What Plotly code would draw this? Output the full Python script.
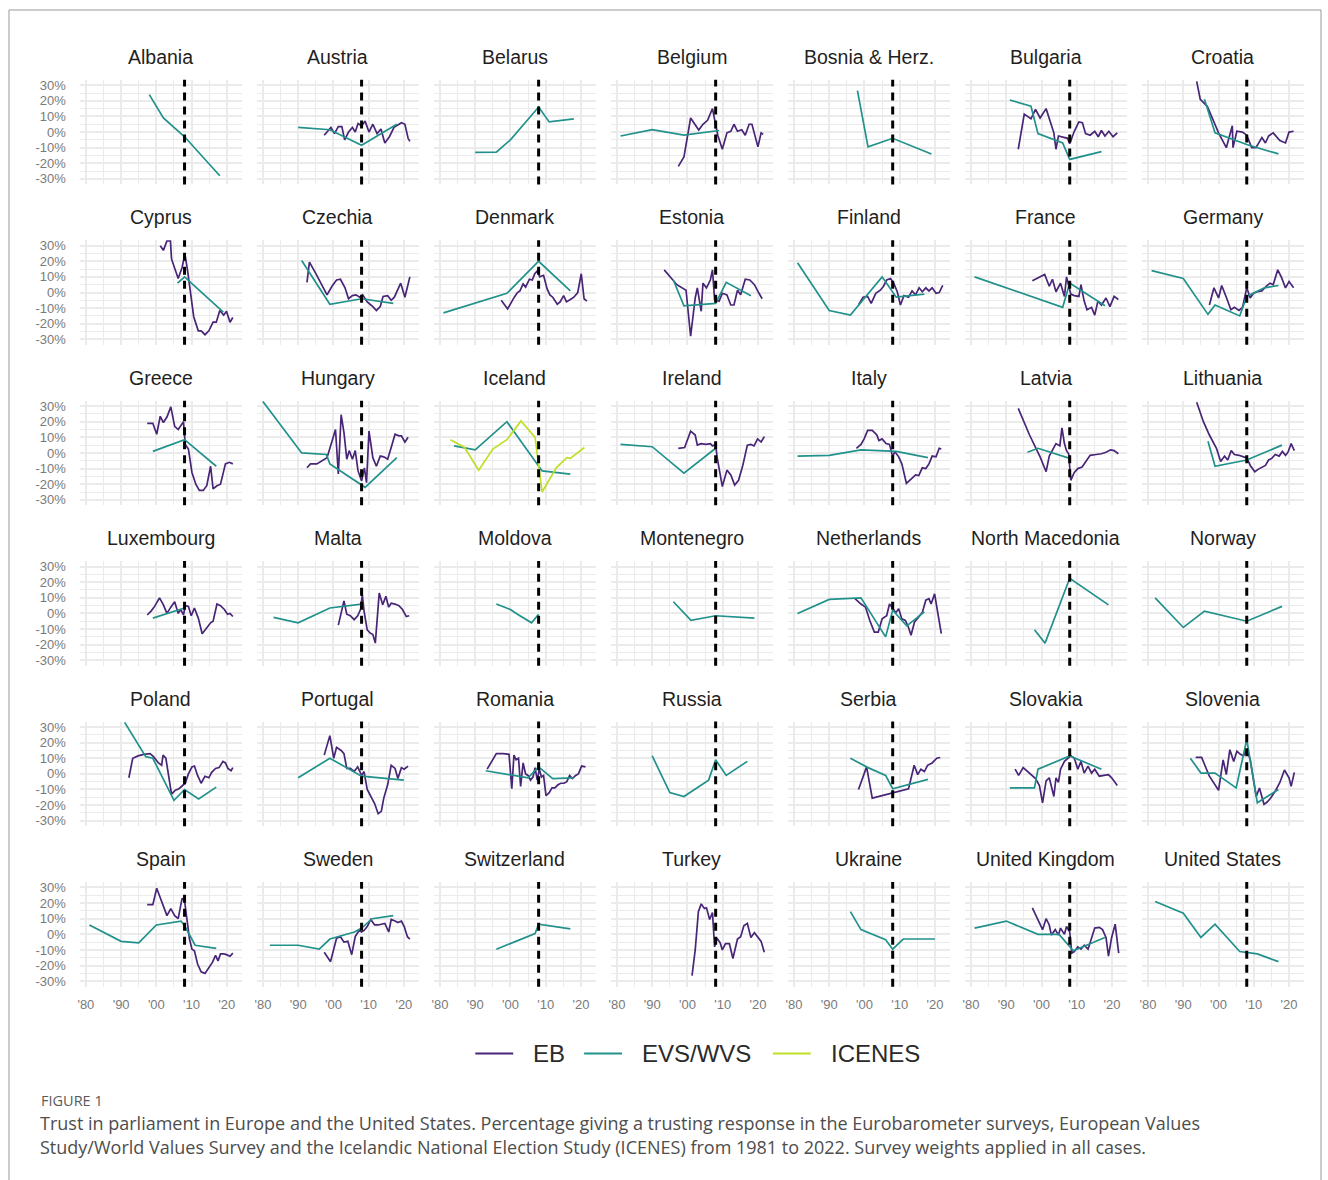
import plotly.graph_objects as go

# ---------------------------------------------------------------------------
# Trust in parliament, % trusting (centred series), by country and survey
# Each list holds (year, value) pairs.
# ---------------------------------------------------------------------------
albania_evs = [(1998, 24), (2002, 9), (2008, -3), (2018, -28)]

austria_evs = [(1990, 3), (1999, 1.5), (2008, -8.5), (2018, 5)]
austria_eb = [(1997.4, -2), (1999.3, 3), (2000.3, -1), (2001.4, 3.5), (2002.4, 3.5), (2003.2, -5),
              (2004.3, 0), (2005.4, 3), (2006.2, 0), (2007, 5.5), (2008, 4), (2009, 7), (2010.1, 0),
              (2011.2, 5), (2012.4, -1), (2013.5, 2), (2014.6, -7), (2015.9, -3), (2017.2, 3),
              (2019.3, 6), (2020.3, 5), (2021.2, -4), (2021.7, -6)]

belarus_evs = [(1990, -13), (1996, -12.8), (2000, -5), (2008, 16), (2011, 6.5), (2018, 8.5)]

belgium_evs = [(1981, -2.5), (1990, 1.5), (1999, -2), (2009, 1)]
belgium_eb = [(1997.4, -22), (1999, -16), (2000.9, 9), (2002.2, 4.5), (2003.2, 1.3), (2004.4, 5),
              (2005.7, 7.5), (2007.1, 15), (2007.7, 8), (2008.6, -2), (2009.9, -11), (2011.2, -0.5),
              (2012.3, 0.5), (2013.2, 5), (2014.2, 0.5), (2015.4, 1.5), (2016.4, -2), (2017.5, 5),
              (2018.3, 5), (2020, -9.5), (2020.9, -0.5), (2021.5, -1.5)]

bosnia_evs = [(1998, 26.5), (2001, -9.5), (2008, -4), (2019, -14)]

bulgaria_evs = [(1991, 20.5), (1997, 16.5), (1999, -1), (2006, -7), (2008, -17.5), (2017, -12.5)]
bulgaria_eb = [(1993.4, -11), (1995.1, 11.5), (1997, 8.5), (1998.3, 14.5), (1999.6, 9), (2001.3, 15),
               (2003.5, -0.5), (2004.1, -11), (2004.8, -2.5), (2006.1, -3.5), (2007.4, -4), (2008, -7.5),
               (2009.3, 0.5), (2010.6, 6.5), (2011.6, 6), (2012.5, -1), (2013.8, -2), (2015.1, 0.5),
               (2016.1, -3), (2017, 1), (2018, -2.5), (2019.1, 0.5), (2020.3, -3), (2021.5, -0.5)]

croatia_evs = [(1996, 21), (1999, -0.5), (2008, -8), (2017, -14)]
croatia_eb = [(1993.8, 32.5), (1994.8, 21), (1996.8, 16.5), (2000, -0.5), (2002.2, -10), (2003.9, 4),
              (2004.1, -10), (2005.2, 0.5), (2006.8, 0), (2008, -2), (2009.4, -10), (2010.6, -10),
              (2012.3, -3.5), (2013.3, -7), (2014.2, -2.5), (2015.5, -0.5), (2017.4, -5.5), (2019, -7),
              (2020, 0), (2021.3, 0.5)]

cyprus_evs = [(2006, 6), (2008, 10), (2019, -12.5)]
cyprus_eb = [(2001.1, 30), (2002, 27), (2003, 33), (2004, 33), (2004.3, 21.5), (2006.2, 9), (2007.3, 16),
             (2008.1, 24.5), (2008.8, 15), (2009.6, 2.5), (2010.6, -15.5), (2011.9, -24.5), (2012.7, -24.5),
             (2013.8, -27), (2014.9, -24.5), (2016.1, -19), (2017, -19), (2018, -11.5), (2019.1, -14.5),
             (2019.9, -12), (2020.9, -19), (2021.7, -16)]

czechia_evs = [(1991, 20.5), (1999, -7.5), (2008, -4), (2017, -7)]
czechia_eb = [(1992.5, 6.5), (1993.2, 19.5), (1994.8, 13), (1998.2, -1.5), (1999.6, 4), (2000.9, 8),
              (2002, 8.5), (2003.3, 3), (2004.3, -4), (2005.4, -2), (2006.4, -1.5), (2007.5, -3),
              (2008.3, -1.5), (2009.6, -6), (2011.2, -9), (2012.2, -11.5), (2013.3, -9), (2014.1, -2.5),
              (2015.4, -2), (2016.4, -5), (2017.3, -3), (2019.1, 6), (2020.3, -3), (2021.7, 10)]

denmark_evs = [(1981, -13), (1990, -7), (1999, -0.5), (2008, 20), (2017, 1)]
denmark_eb = [(1997.4, -5), (1999.2, -10.5), (2001.1, -3), (2002, 0), (2002.7, 1), (2003.6, 5.5),
              (2004.3, 3.5), (2005.4, 8.5), (2006.2, 8), (2006.9, 12), (2007.7, 14), (2008.3, 10),
              (2009.4, 11), (2010.4, 2.5), (2011.2, -1.5), (2012, -3), (2013.3, -7.5), (2014.1, -6),
              (2015.1, -2), (2015.9, -6), (2017, -4.5), (2018, -3), (2019.1, 0), (2020.1, 12),
              (2020.9, -4), (2021.7, -5.5)]

estonia_evs = [(1996, 8), (1999, -8.5), (2008, -7), (2011, 6.5), (2018, -2)]
estonia_eb = [(1993.4, 14.5), (1997, 5), (1999.6, 1.5), (2000.9, -28), (2002.2, -3.5), (2002.8, 3),
              (2003.9, -12), (2004.4, 6), (2005.4, 3), (2006.5, 8), (2007.1, 14.5), (2007.7, -4.5),
              (2009, -5.5), (2009.9, -0.5), (2011.2, -1.5), (2012.3, -8), (2013.2, -8), (2014.2, 1.5),
              (2015.1, -1.5), (2016.4, 8.5), (2017.7, 8), (2019, 5), (2020.3, -0.5), (2021.2, -4)]

finland_evs = [(1981, 19), (1990, -11.5), (1996, -14.5), (2005, 10), (2009, -3), (2017, -1)]
finland_eb = [(1998.3, -8), (1999.6, -3), (2000.9, -2.5), (2001.9, -7), (2003.2, -0.5), (2004.5, 1.5),
              (2005.4, 4), (2006.3, 8), (2007.4, 9), (2008.3, 6), (2009.3, 0.5), (2010.2, -8),
              (2011.2, -2), (2012.5, -3), (2013.5, 1), (2014.5, -1.5), (2015.5, 3), (2016.4, 0.5),
              (2017.4, 3), (2018.3, 1), (2019.2, 3), (2020.3, -0.5), (2021.2, 0), (2022.2, 4.5)]

france_evs = [(1981, 10), (1990, 3), (1999, -4), (2006, -9.5), (2008, 6), (2018, -8.5)]
france_eb = [(1997.4, 7.5), (1998.3, 8.5), (2000.9, 11.5), (2002.2, 4), (2003.1, 8.5), (2004.1, 0.5),
             (2005.4, 6), (2006.5, -2.5), (2007.1, 10), (2008.3, -1), (2009.3, -2), (2010.6, -2.5),
             (2011.2, 5), (2012.1, -5.5), (2012.9, -11), (2014.2, -9.5), (2015.1, -14.5), (2016, -5.5),
             (2017, -8), (2018.3, -3.5), (2019.4, -9), (2020.6, -2.5), (2021.8, -4.5)]

germany_evs = [(1981, 14), (1990, 9), (1997, -14), (1999, -8), (2006, -15), (2008, -2.5), (2013, 3),
               (2017, 4.5)]
germany_eb = [(1997.4, -8), (1998.7, 3), (2000, -3.5), (2000.9, 4.5), (2002.2, -3), (2003.5, -11),
              (2004.5, -9.5), (2005.8, -11.5), (2006.8, -9.5), (2008, 3), (2009, -3.5), (2009.9, -0.5),
              (2011, 0.5), (2012.3, 1), (2013.5, 4), (2014.6, 6), (2015.5, 5), (2016.8, 14.5),
              (2017.8, 10), (2019, 3), (2020, 7), (2021.3, 3)]

greece_evs = [(1999, 1), (2008, 8.5), (2017, -8.5)]
greece_eb = [(1997.4, 19), (1999, 19), (2000.1, 12), (2001.1, 23.5), (2002, 19.5), (2003, 23),
             (2004.1, 29.5), (2005.2, 17), (2006.2, 15), (2006.9, 17), (2007.7, 20), (2008.2, 5.5),
             (2009.1, 2.5), (2010.1, -12.5), (2011.2, -20), (2012.2, -24), (2013.3, -24), (2014.3, -21),
             (2015.4, -8.5), (2016.1, -23), (2017.2, -21), (2018.2, -20), (2019.6, -7), (2020.7, -6),
             (2021.7, -7)]

hungary_evs = [(1980, 33), (1991, 0), (1998, -1), (1999, -7), (2009, -22), (2018, -3)]
hungary_eb = [(1992.5, -9.5), (1993.5, -7), (1995.3, -7), (1996.9, -5), (1998.2, -3), (2000.6, 15),
              (2001.4, -13.5), (2002.2, 24.5), (2003, 13), (2003.8, -4), (2004.5, 1.5), (2005.4, -4),
              (2006.2, 1.5), (2007, -11.5), (2008, -18), (2008.8, -9.5), (2009.4, -19), (2010.1, 14),
              (2011.2, -3), (2012.2, -8.5), (2013.3, -2), (2014.3, -2.5), (2015.4, -4), (2016.4, 3.5),
              (2017.5, 12), (2018.6, 11), (2019.3, 11), (2020.3, 7), (2021.2, 10)]

iceland_evs = [(1984, 4.5), (1990, 2), (1999, 20), (2009, -11.5), (2017, -13.5)]
iceland_icenes = [(1983, 8.5), (1987, 3.5), (1991, -11), (1995, 2.5), (1999, 8.5), (2003, 20.5),
                  (2007, 10), (2009, -25), (2013, -9.5), (2016, -3), (2017, -3.5), (2021, 3.5)]

ireland_evs = [(1981, 5.5), (1990, 4), (1999, -13), (2008, 3)]
ireland_eb = [(1997.4, 3), (1999.2, 3.5), (2000.9, 14), (2002.2, 11.5), (2002.8, 5), (2003.9, 6),
              (2005.2, 5.5), (2006.5, 6), (2007.1, 4.5), (2008, 5.5), (2008.4, -2.5), (2009, -10),
              (2009.9, -21.5), (2011.2, -11), (2012.3, -14), (2013.4, -20.5), (2014.5, -17.5),
              (2015.7, -8), (2017, 5), (2018, 5.5), (2018.9, 4.5), (2019.9, 9), (2020.9, 7), (2021.8, 10.5)]

italy_evs = [(1981, -2), (1990, -1.5), (1999, 2), (2005, 1.5), (2009, 1), (2018, -3)]
italy_eb = [(1997.7, 3), (1999, 5.5), (1999.9, 9), (2000.9, 14.5), (2002.2, 14.5), (2003.5, 11.5),
            (2004.1, 8), (2005, 9), (2006.1, 6), (2007.1, 5.5), (2008, -2.5), (2008.6, 1), (2009.7, -2.5),
            (2010.6, -7), (2011.9, -19.5), (2013.2, -17), (2014.5, -14), (2015.4, -14.5), (2016.4, -9.5),
            (2017.4, -10), (2018.3, -7), (2019.2, -2), (2020.3, -2.5), (2021.2, 3), (2021.8, 2.5)]

latvia_evs = [(1996, 0.5), (1999, 3), (2008, -3.5)]
latvia_eb = [(1993.4, 28.5), (1996.6, 11.5), (1999.6, -2.5), (2001.3, -12), (2002.2, -2), (2003.5, 3),
             (2004.1, 6), (2005.2, 4.5), (2005.8, 16), (2006.5, 6), (2007.1, 1.5), (2007.7, -0.5),
             (2008.3, -17.5), (2009.3, -12.5), (2010.3, -10), (2011.5, -9), (2012.5, -5.5), (2013.8, -1.5),
             (2015.5, -1), (2017, -0.5), (2018.3, 0.5), (2019.6, 2), (2020.6, 1.5), (2021.8, -0.5)]

lithuania_evs = [(1997, 7.5), (1999, -8.5), (2008, -4.5), (2018, 5)]
lithuania_eb = [(1993.8, 32.5), (1995.7, 20), (1997.4, 11.5), (1999.4, 3), (2000.6, -5.5), (2001.7, -2),
                (2002.6, -4.5), (2003.6, 1.5), (2004.5, -1), (2005.8, -1.5), (2007.1, -2.5), (2008, -3),
                (2009, -8), (2010.3, -12), (2011.2, -10.5), (2012.3, -9), (2013.3, -8), (2014.2, -4.5),
                (2015.1, -3.5), (2016.1, -1), (2017.2, -2), (2018.1, 1), (2019, -1.5), (2019.7, 0.5),
                (2020.6, 6), (2021.5, 1.5)]

luxembourg_evs = [(1999, -3), (2008, 3.5)]
luxembourg_eb = [(1997.4, -1), (1998.5, 1.5), (1999.5, 4.5), (2000.9, 10), (2002, 5.5), (2003, 0),
                 (2004.1, 4), (2005.2, 7.5), (2006.2, 0), (2006.9, 2.5), (2007.7, -1), (2008.2, 5),
                 (2009.1, 4.5), (2009.9, -1.5), (2010.8, 3.5), (2011.9, -3), (2013, -13), (2014.3, -9.5),
                 (2015.4, -6), (2016.1, -5), (2017.2, 6), (2018.2, 5), (2019.3, 2.5), (2020.2, -0.5),
                 (2020.9, 0), (2021.7, -2)]

malta_evs = [(1983, -2.5), (1990, -6), (1999, 3.5), (2008, 6)]
malta_eb = [(2001.4, -7.5), (2003, 8), (2003.8, -0.5), (2004.8, -1.5), (2005.9, -4), (2006.9, -1.5),
            (2007.7, 2.5), (2008.2, 12), (2008.7, 1.5), (2009.6, -10.5), (2010.4, -12.5), (2011.2, -13.5),
            (2011.9, -19), (2013, 13), (2014, 5.5), (2014.9, 11), (2015.7, 4), (2016.4, 6.5), (2017.5, 6),
            (2018.6, 5), (2019.6, 2.5), (2020.7, -2), (2021.5, -1.5)]

moldova_evs = [(1996, 6), (2000, 2.5), (2002, -0.5), (2006, -6), (2008, -0.5)]

montenegro_evs = [(1996, 7.5), (2001, -4.5), (2008, -1.5), (2019, -3)]

netherlands_evs = [(1981, 0), (1990, 9), (1999, 10), (2006, -15), (2008, 2), (2012, -8), (2017, 1)]
netherlands_eb = [(1997.3, 9.5), (1999, 6), (2000.3, 4), (2001.5, -4.5), (2002.8, -12), (2003.9, -12),
                  (2005, -3.5), (2006.3, -1.5), (2007.1, 6), (2008, 3), (2008.9, 0.5), (2009.7, 3),
                  (2010.6, -3.5), (2011.6, -4.5), (2012.5, -9), (2013.2, -14), (2014.2, -5.5), (2015.1, -3),
                  (2016.4, 0.5), (2017.4, 8.5), (2018.3, 9.5), (2018.9, 6), (2019.9, 12.5), (2020.6, 3),
                  (2021.8, -13)]

north_macedonia_evs = [(1998, -10.5), (2001, -19), (2008, 22.5), (2019, 5.5)]

norway_evs = [(1982, 10), (1990, -9), (1996, 1.5), (2008, -5), (2018, 4.5)]

poland_evs = [(1991, 33), (1997, 11), (1999, 10), (2005, -17), (2008, -10), (2012, -16), (2017, -8.5)]
poland_eb = [(1992.2, -2.5), (1993.3, 10), (1994.8, 11.5), (1996.4, 12.5), (1998.2, 13), (1999.2, 11),
             (2000.6, 7), (2001.5, 5.5), (2001.9, 12), (2002.7, 10), (2004.3, -13), (2005.4, -10.5),
             (2006.4, -9.5), (2007.5, -7), (2008.2, -6), (2009.1, 0), (2010.1, 4.5), (2010.8, 5),
             (2011.7, -1), (2012.7, -6), (2013.8, -1.5), (2014.9, -2.5), (2015.7, 1), (2016.8, 3.5),
             (2017.8, 4), (2018.9, 8), (2019.6, 7), (2020.3, 3.5), (2021.2, 2), (2021.7, 4)]

portugal_evs = [(1990, -2.5), (1999, 10), (2008, -1.5), (2020, -4)]
portugal_eb = [(1997.4, 12), (1999, 24.5), (2000.1, 10), (2000.9, 17), (2002.2, 15), (2003, 13),
               (2003.8, 3.5), (2004.8, 3.5), (2005.9, 1.5), (2006.9, 4.5), (2008, -1), (2008.7, 1.5),
               (2009.6, -10), (2010.6, -14), (2011.7, -19), (2012.7, -25.5), (2013.6, -24), (2014.3, -15.5),
               (2015.4, -7), (2016.4, 5.5), (2017.5, 3.5), (2018.3, -3), (2019.3, 4), (2020.1, 3), (2021.2, 5)]

romania_evs = [(1993, 2), (1998, 0), (1999, -0.5), (2005, -2.5), (2008, 4.5), (2012, -3), (2018, -2.5)]
romania_eb = [(1993.4, 3), (1996, 13), (1998, 13), (1999.6, 12.5), (2000.4, -9.5), (2001, 12), (2001.6, 9),
              (2002.3, 10), (2002.9, -8), (2003.6, 7), (2004.3, 0), (2005, -1), (2005.7, -4), (2006.4, -2),
              (2007, 4), (2007.6, -4), (2008.2, 3), (2008.8, -2), (2009.4, -1), (2010.1, -14), (2011, -12),
              (2011.8, -9), (2012.6, -9), (2013.5, -7), (2014.3, -6), (2015.2, -6), (2016, -5), (2016.8, -1),
              (2017.6, -3), (2018.5, -1), (2019.3, 0), (2020.2, 5), (2021.3, 4.5)]

russia_evs = [(1990, 11.5), (1995, -12), (1999, -14.5), (2006, -4), (2008, 9), (2011, -1), (2017, 8)]

serbia_evs = [(1996, 10), (2001, 4), (2006, -1), (2008, -9.5), (2018, -3.5)]
serbia_eb = [(1998.3, -10), (2000.6, 4.5), (2002.2, -15.5), (2008, -12), (2012.5, -9.5), (2014.1, 5.5),
             (2015.1, -0.5), (2016, 3), (2017, 1.5), (2017.9, 5.5), (2019.2, 7), (2020.5, 10), (2021.5, 10.5)]

slovakia_evs = [(1991, -9), (1998, -9), (1999, 3), (2008, 11.5), (2017, 3)]
slovakia_eb = [(1992.5, 3), (1993.5, -1), (1994.8, 4), (1996.4, 0.5), (1998.3, -3), (1999.4, -7.5),
               (2000.3, -18.5), (2001.3, -4.5), (2002.2, -2.5), (2003.5, -14.5), (2004.1, -2.5),
               (2004.8, -5.5), (2005.4, 3), (2006.5, 8), (2007.4, 10), (2008.3, 11.5), (2009.3, 10),
               (2010.3, 3), (2011.2, 8), (2012.1, 0.5), (2013.2, 5), (2014.2, 0.5), (2015.1, 3),
               (2016.4, -1.5), (2017.7, -1), (2019, -0.5), (2019.9, -2.5), (2020.9, -5.5), (2021.5, -7.5)]

slovenia_evs = [(1992, 10), (1995, 0.5), (1999, 0.5), (2005, -9), (2008, 22), (2011, -18.5), (2017, -10)]
slovenia_eb = [(1993.5, 10.5), (1995.2, 10.5), (1997.4, -1.5), (2000, -10.5), (2001.3, 9), (2002.2, -0.5),
               (2003.2, 15.5), (2004.3, 8), (2005.2, 14.5), (2006.2, 12.5), (2007.1, 11.5), (2008, 15.5),
               (2009, 9), (2009.7, -2), (2010.7, -14.5), (2011.6, -9), (2012.9, -19.5), (2013.8, -18),
               (2014.8, -15.5), (2016.1, -11), (2017.4, -5.5), (2018.7, 2.5), (2020, -2.5), (2020.6, -8),
               (2021.5, 1)]

spain_evs = [(1981, 6), (1990, -4.5), (1995, -5.5), (2000, 6), (2007, 8.5), (2008, 5.5), (2011, -7),
             (2017, -9)]
spain_eb = [(1997.4, 19), (1999, 19), (2000.1, 29.5), (2001.7, 20.5), (2003, 12), (2004.1, 16.5),
            (2005.2, 12), (2006.2, 10), (2007.3, 23), (2008, 21.5), (2008.5, 13), (2009.4, -3), (2010.1, -9.5),
            (2010.8, -10.5), (2011.7, -19), (2012.7, -24), (2013.8, -25), (2014.9, -21), (2015.9, -18),
            (2016.8, -13.5), (2017.5, -17), (2018.2, -12.5), (2019.1, -12.5), (2019.9, -13), (2020.9, -14),
            (2021.7, -12)]

sweden_evs = [(1982, -7), (1990, -7), (1996, -9.5), (1999, -3), (2006, 1.5), (2008, 4), (2011, 10),
              (2017, 12)]
sweden_eb = [(1997.4, -11.5), (1999.2, -17.5), (2000.9, -2.5), (2002, -1.5), (2003, -5), (2004.1, -4.5),
             (2005.2, -13), (2006.2, -1.5), (2007.3, 2.5), (2008, 1.5), (2008.7, 2.5), (2009.6, 5),
             (2010.6, 9.5), (2011.7, 6), (2012.7, 6), (2013.8, 6.5), (2014.6, 7), (2015.7, 1.5),
             (2016.4, 9.5), (2017.5, 8.5), (2018.3, 7.5), (2019.3, 8.5), (2020.1, 5), (2021, -1.5),
             (2021.7, -3)]

switzerland_evs = [(1996, -9.5), (2007, 0.5), (2008, 6.5), (2017, 3.5)]

turkey_eb = [(2001.3, -26.5), (2002.2, -10), (2003.1, 14.5), (2003.9, 19.5), (2004.8, 16.5), (2005.4, 17),
             (2006.3, 9.5), (2007.1, 14), (2007.7, -8), (2008.4, -2.5), (2009.3, -5.5), (2009.9, -10),
             (2010.8, -6), (2011.9, -6), (2012.9, -15.5), (2014.2, -3), (2015.1, -1.5), (2016, 5.5),
             (2017, 7), (2018, -2), (2019, 1), (2019.9, -2), (2020.9, -4.5), (2021.8, -11.5)]

ukraine_evs = [(1996, 14.5), (1999, 3), (2006, -3.5), (2008, -9.5), (2011, -3), (2020, -3)]

uk_evs = [(1981, 4), (1990, 8.5), (1999, 0), (2005, 0), (2009, -10.5), (2018, -2)]
uk_eb = [(1997.4, 17), (1999, 9), (2000.3, 3), (2001.3, 10), (2002.2, 6), (2002.8, -0.5), (2003.9, 3),
         (2004.8, -0.5), (2005.4, 4), (2006.5, 0), (2007.1, 5), (2008, 1.5), (2008.6, -12), (2009.3, -11),
         (2010.3, -8), (2011.2, -9.5), (2012.1, -7), (2013.2, -9.5), (2014.2, -1.5), (2015.1, 4),
         (2016.4, 4.5), (2017.3, 3), (2018.3, -2), (2019, -14), (2019.9, -2), (2020.9, 6.5), (2021.9, -12)]

us_evs = [(1982, 21), (1990, 13.5), (1995, -2), (1999, 6.5), (2006, -11), (2011, -12.5), (2017, -17.5)]

# Panel order: (title, EB, EVS/WVS, ICENES)
PANELS = [
    ("Albania", None, albania_evs, None),
    ("Austria", austria_eb, austria_evs, None),
    ("Belarus", None, belarus_evs, None),
    ("Belgium", belgium_eb, belgium_evs, None),
    ("Bosnia & Herz.", None, bosnia_evs, None),
    ("Bulgaria", bulgaria_eb, bulgaria_evs, None),
    ("Croatia", croatia_eb, croatia_evs, None),
    ("Cyprus", cyprus_eb, cyprus_evs, None),
    ("Czechia", czechia_eb, czechia_evs, None),
    ("Denmark", denmark_eb, denmark_evs, None),
    ("Estonia", estonia_eb, estonia_evs, None),
    ("Finland", finland_eb, finland_evs, None),
    ("France", france_eb, france_evs, None),
    ("Germany", germany_eb, germany_evs, None),
    ("Greece", greece_eb, greece_evs, None),
    ("Hungary", hungary_eb, hungary_evs, None),
    ("Iceland", None, iceland_evs, iceland_icenes),
    ("Ireland", ireland_eb, ireland_evs, None),
    ("Italy", italy_eb, italy_evs, None),
    ("Latvia", latvia_eb, latvia_evs, None),
    ("Lithuania", lithuania_eb, lithuania_evs, None),
    ("Luxembourg", luxembourg_eb, luxembourg_evs, None),
    ("Malta", malta_eb, malta_evs, None),
    ("Moldova", None, moldova_evs, None),
    ("Montenegro", None, montenegro_evs, None),
    ("Netherlands", netherlands_eb, netherlands_evs, None),
    ("North Macedonia", None, north_macedonia_evs, None),
    ("Norway", None, norway_evs, None),
    ("Poland", poland_eb, poland_evs, None),
    ("Portugal", portugal_eb, portugal_evs, None),
    ("Romania", romania_eb, romania_evs, None),
    ("Russia", None, russia_evs, None),
    ("Serbia", serbia_eb, serbia_evs, None),
    ("Slovakia", slovakia_eb, slovakia_evs, None),
    ("Slovenia", slovenia_eb, slovenia_evs, None),
    ("Spain", spain_eb, spain_evs, None),
    ("Sweden", sweden_eb, sweden_evs, None),
    ("Switzerland", None, switzerland_evs, None),
    ("Turkey", turkey_eb, None, None),
    ("Ukraine", None, ukraine_evs, None),
    ("United Kingdom", uk_eb, uk_evs, None),
    ("United States", None, us_evs, None),
]

SERIES = ["EB", "EVS/WVS", "ICENES"]
COLORS = {"EB": "#482576", "EVS/WVS": "#21918c", "ICENES": "#bddf26"}

CRISIS_YEAR = 2008
X_TICKS = [1980, 1990, 2000, 2010, 2020]
X_LABELS = ["'80", "'90", "'00", "'10", "'20"]
Y_TICKS = [-30, -20, -10, 0, 10, 20, 30]
Y_LABELS = [f"{v}%" for v in Y_TICKS]

# ---------------------------------------------------------------------------
# Page geometry (pixels)
# ---------------------------------------------------------------------------
W, H = 1328, 1180
NCOL = 7
LEFT, COL_STEP, PANEL_W = 78, 177.3, 162
TOP, ROW_STEP, PANEL_H = 78, 161.0, 105
X_RANGE = [1978.3, 2024.2]
Y_RANGE = [-33.5, 33.5]

GRID = "#ebebeb"
TEXT_FONT = "Liberation Sans, Arial, sans-serif"


def fx(px):
    return px / W


def fy(py):
    return 1 - py / H


fig = go.Figure()
layout_axes = {}
annotations = []
shapes = []

for i, (title, eb, evs, icenes) in enumerate(PANELS):
    r, c = divmod(i, NCOL)
    k = i + 1
    x0 = LEFT + c * COL_STEP
    y0 = TOP + r * ROW_STEP
    xa = "x" if k == 1 else f"x{k}"
    ya = "y" if k == 1 else f"y{k}"

    layout_axes["xaxis" if k == 1 else f"xaxis{k}"] = dict(
        domain=[fx(x0), fx(x0 + PANEL_W)], anchor=ya, range=X_RANGE,
        tickmode="array", tickvals=X_TICKS, ticktext=X_LABELS,
        showticklabels=(r == 5), tickfont=dict(size=13, color="#7a7a7a", family=TEXT_FONT),
        ticks="", ticklabelstandoff=8,
        showgrid=True, gridcolor=GRID, gridwidth=1.8,
        minor=dict(tickmode="linear", tick0=1975, dtick=5, showgrid=True, gridcolor=GRID, gridwidth=0.9),
        zeroline=False, showline=False, fixedrange=True,
    )
    layout_axes["yaxis" if k == 1 else f"yaxis{k}"] = dict(
        domain=[fy(y0 + PANEL_H), fy(y0)], anchor=xa, range=Y_RANGE,
        tickmode="array", tickvals=Y_TICKS, ticktext=Y_LABELS,
        showticklabels=(c == 0), tickfont=dict(size=13, color="#7a7a7a", family=TEXT_FONT),
        ticks="", ticklabelstandoff=13,
        showgrid=True, gridcolor=GRID, gridwidth=1.8,
        minor=dict(tickmode="linear", tick0=-35, dtick=5, showgrid=True, gridcolor=GRID, gridwidth=0.9),
        zeroline=False, showline=False, fixedrange=True,
    )

    for name, data in zip(SERIES, (eb, evs, icenes)):
        if not data:
            continue
        fig.add_trace(go.Scatter(
            x=[p[0] for p in data], y=[p[1] for p in data], mode="lines",
            name=name, legendgroup=name, showlegend=False,
            line=dict(color=COLORS[name], width=1.7), xaxis=xa, yaxis=ya,
            cliponaxis=True, hoverinfo="skip",
        ))

    # 2008 financial crisis marker
    shapes.append(dict(
        type="line", xref=xa, yref=f"{ya} domain", x0=CRISIS_YEAR, x1=CRISIS_YEAR, y0=0, y1=1,
        line=dict(color="black", width=3, dash="8px,6px"), layer="above",
    ))

    annotations.append(dict(
        text=title, xref="paper", yref="paper", x=fx(x0 + PANEL_W / 2), y=fy(y0 - 23),
        xanchor="center", yanchor="middle", showarrow=False,
        font=dict(size=19.5, color="#1f1f1f", family=TEXT_FONT),
    ))

# Series key below the panels
KEY_Y = 1055
KEY_ITEMS = [("EB", 474), ("EVS/WVS", 583), ("ICENES", 772)]
for name, kx in KEY_ITEMS:
    shapes.append(dict(
        type="line", xref="paper", yref="paper", x0=fx(kx), x1=fx(kx + 38), y0=fy(KEY_Y), y1=fy(KEY_Y),
        line=dict(color=COLORS[name], width=2),
    ))
    annotations.append(dict(
        text=name, xref="paper", yref="paper", x=fx(kx + 56), y=fy(KEY_Y), xanchor="left",
        yanchor="middle", showarrow=False, font=dict(size=24, color="#2b2b2b", family=TEXT_FONT),
    ))

# Figure caption
CAPTION_LABEL = "FIGURE 1"
CAPTION_LINES = [
    "Trust in parliament in Europe and the United States. Percentage giving a trusting response in the "
    "Eurobarometer surveys, European Values",
    "Study/World Values Survey and the Icelandic National Election Study (ICENES) from 1981 to 2022. "
    "Survey weights applied in all cases.",
]
CAPTION_FONT = "Open Sans, Noto Sans, sans-serif"
annotations.append(dict(
    text=CAPTION_LABEL, xref="paper", yref="paper", x=fx(37), y=fy(1102), xanchor="left",
    yanchor="middle", showarrow=False, font=dict(size=14.5, color="#5a5a5a", family=CAPTION_FONT),
))
for j, line in enumerate(CAPTION_LINES):
    annotations.append(dict(
        text=line, xref="paper", yref="paper", x=fx(36), y=fy(1125 + 24 * j), xanchor="left",
        yanchor="middle", showarrow=False, font=dict(size=18, color="#4d4d4d", family=CAPTION_FONT),
    ))

# Outer frame
shapes.append(dict(
    type="rect", xref="paper", yref="paper", x0=fx(7), x1=fx(1321), y0=fy(1230), y1=fy(8),
    line=dict(color="#9a9a9a", width=1), fillcolor="rgba(0,0,0,0)", layer="below",
))

fig.update_layout(
    width=W, height=H, autosize=False,
    margin=dict(l=0, r=0, t=0, b=0),
    paper_bgcolor="white", plot_bgcolor="white",
    showlegend=False,
    annotations=annotations,
    shapes=shapes,
    **layout_axes,
)

fig.write_html("out.html")
